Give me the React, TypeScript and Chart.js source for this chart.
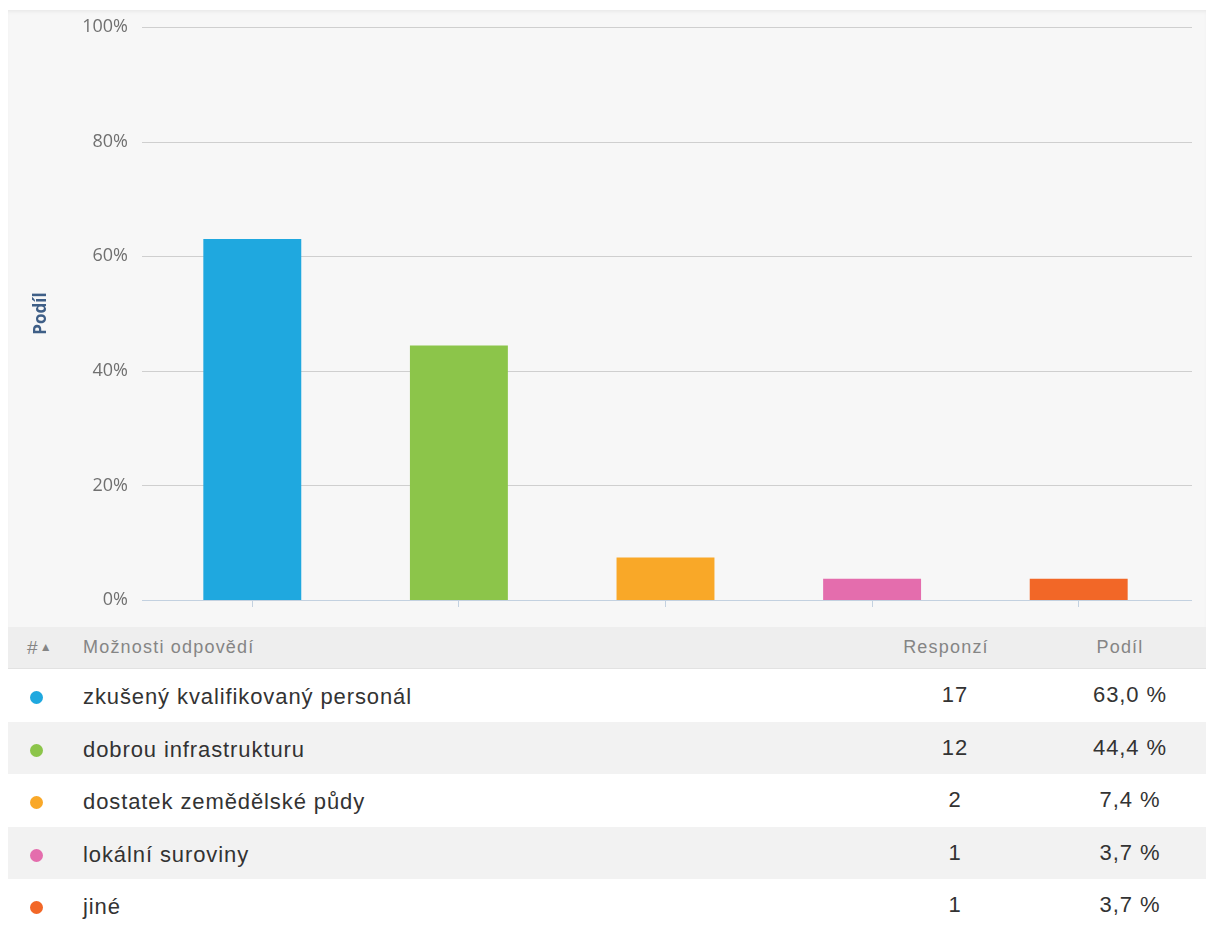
import React, { useEffect, useRef } from "react";
import { Chart, registerables } from "chart.js";

Chart.register(...registerables);

const categories = [
  "zkušený kvalifikovaný personál",
  "dobrou infrastrukturu",
  "dostatek zemědělské půdy",
  "lokální suroviny",
  "jiné",
];
const shares = [63.0, 44.4, 7.4, 3.7, 3.7];
const responses = [17, 12, 2, 1, 1];
const shareLabels = ["63,0 %", "44,4 %", "7,4 %", "3,7 %", "3,7 %"];
const colors = ["#1fa8df", "#8cc54a", "#f9a828", "#e46dad", "#f26727"];
const yTicks = [0, 20, 40, 60, 80, 100];
const headers = ["#", "Možnosti odpovědí", "Responzí", "Podíl"];

const gridPlugin = {
  id: "customGrid",
  beforeDatasetsDraw(chart: any) {
    const { ctx, chartArea, scales } = chart;
    const y = scales.y;
    ctx.save();
    yTicks.forEach((v) => {
      const py = Math.round(y.getPixelForValue(v)) + 0.5;
      ctx.beginPath();
      ctx.strokeStyle = v === 0 ? "#c3d1e0" : "#cfcfcf";
      ctx.lineWidth = 1.2;
      ctx.moveTo(chartArea.left - 7, py);
      ctx.lineTo(chartArea.right + 10, py);
      ctx.stroke();
    });
    ctx.restore();
  },
};

function BarChart() {
  const ref = useRef<HTMLCanvasElement | null>(null);
  useEffect(() => {
    if (!ref.current) return;
    const chart = new Chart(ref.current, {
      type: "bar",
      data: {
        labels: categories,
        datasets: [
          {
            data: shares,
            backgroundColor: colors,
            borderWidth: 0,
            barPercentage: 0.474,
            categoryPercentage: 1,
          },
        ],
      },
      options: {
        animation: false,
        responsive: true,
        maintainAspectRatio: false,
        layout: { padding: { left: 19, top: 17, right: 24, bottom: 0 } },
        plugins: { legend: { display: false }, tooltip: { enabled: false } },
        scales: {
          x: {
            border: { display: false },
            grid: {
              display: true,
              drawOnChartArea: false,
              drawTicks: true,
              tickLength: 7,
              offset: false,
              color: "#c3d1e0",
            },
            ticks: { display: false },
            afterFit: (scale: any) => {
              scale.height = 27;
              scale.paddingLeft = 0;
              scale.paddingRight = 0;
            },
          },
          y: {
            min: 0,
            max: 100,
            border: { display: false },
            grid: { display: false, drawTicks: false },
            ticks: {
              stepSize: 20,
              padding: 21,
              color: "#707070",
              font: { family: "'Open Sans', sans-serif", size: 18 },
              callback: (v: any) => v + "%",
            },
            title: {
              display: true,
              text: "Podíl",
              color: "#3f5f87",
              font: { family: "'Open Sans', sans-serif", size: 17, weight: "bold" },
              padding: { top: 4, bottom: 4 },
            },
            afterFit: (scale: any) => {
              scale.width = 122;
              scale.paddingTop = 0;
              scale.paddingBottom = 0;
            },
          },
        },
      },
      plugins: [gridPlugin],
    });
    return () => chart.destroy();
  }, []);
  return (
    <div style={{ position: "relative", height: 617, width: 1198, background: "#f7f7f7", boxShadow: "inset 0 3px 4px -2px rgba(0,0,0,0.08)" }}>
      <canvas ref={ref} />
    </div>
  );
}

export default function App() {
  const font = "'Liberation Sans', Arial, sans-serif";
  return (
    <div style={{ position: "absolute", left: 8, top: 10, width: 1198, fontFamily: font }}>
      <BarChart />
      <div
        style={{
          position: "relative",
          height: 41,
          lineHeight: "41px",
          background: "#eeeeee",
          borderBottom: "1px solid #e2e2e2",
          color: "#858585",
          fontSize: 18,
          letterSpacing: 1.2,
        }}
      >
        <span style={{ position: "absolute", left: 19, top: 0, fontSize: 19 }}>
          {headers[0]}
          <span style={{ fontSize: 12, position: "relative", top: -3, marginLeft: 1 }}>▲</span>
        </span>
        <span style={{ position: "absolute", left: 75, top: 0 }}>{headers[1]}</span>
        <span style={{ position: "absolute", left: 863, width: 150, textAlign: "center", top: 0 }}>{headers[2]}</span>
        <span style={{ position: "absolute", left: 1037, width: 150, textAlign: "center", top: 0 }}>{headers[3]}</span>
      </div>
      {categories.map((c, i) => (
        <div
          key={c}
          style={{
            position: "relative",
            height: 52.5,
            lineHeight: "52px",
            background: i % 2 === 0 ? "#ffffff" : "#f2f2f2",
            color: "#333",
            fontSize: 22,
            letterSpacing: 0.9,
          }}
        >
          <span
            style={{
              position: "absolute",
              left: 22,
              top: 22,
              width: 13,
              height: 13,
              borderRadius: 7,
              background: colors[i],
            }}
          />
          <span style={{ position: "absolute", left: 75, top: 2 }}>{c}</span>
          <span style={{ position: "absolute", left: 872, width: 150, textAlign: "center", top: 0 }}>{responses[i]}</span>
          <span style={{ position: "absolute", left: 1047, width: 150, textAlign: "center", top: 0 }}>{shareLabels[i]}</span>
        </div>
      ))}
    </div>
  );
}
